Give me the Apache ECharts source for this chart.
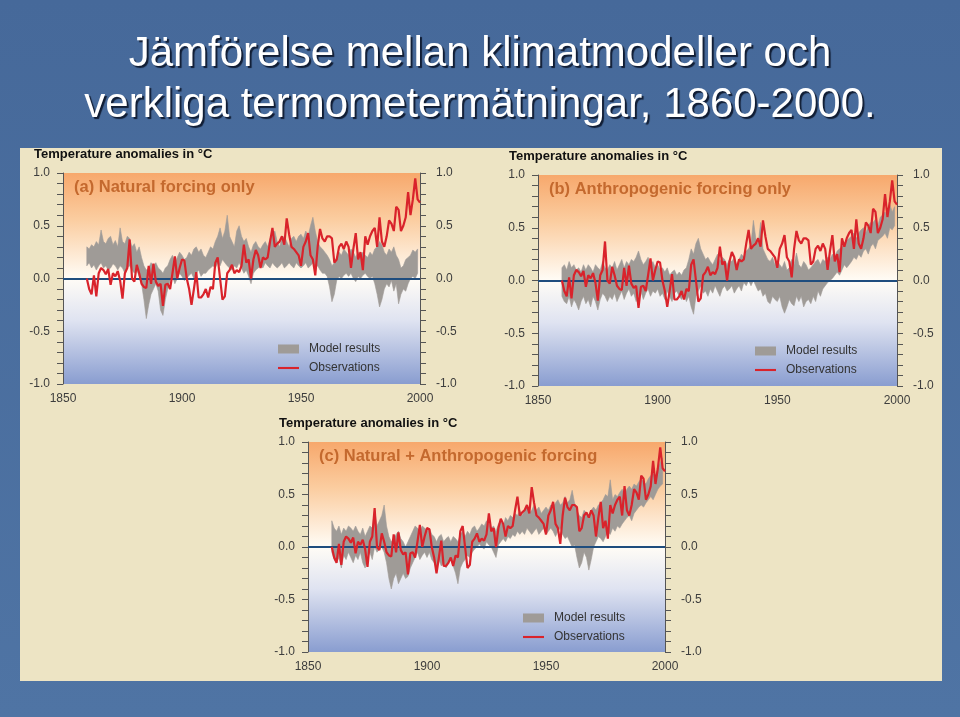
<!DOCTYPE html>
<html><head><meta charset="utf-8">
<script src="https://cdn.jsdelivr.net/npm/echarts@6/dist/echarts.min.js"></script>
<style>html,body{margin:0;padding:0;background:#4a6e9e;}#c{width:960px;height:717px;}</style>
</head><body><div id="c"></div>
<script>
// ---------- DATA ----------
var titleLines = ['Jämförelse mellan klimatmodeller och', 'verkliga termometermätningar, 1860-2000.'];
var panelLabels = ['(a) Natural forcing only', '(b) Anthropogenic forcing only', '(c) Natural + Anthropogenic forcing'];
var yTitle = 'Temperature anomalies in °C';
var legendNames = ['Model results', 'Observations'];
var xTicks = [1850, 1900, 1950, 2000];
var yTicks = [-1.0, -0.5, 0.0, 0.5, 1.0];
var obsStart = 1860;
var modelStart = 1860;

var observations = [
  0.00,-0.10,-0.15,0.03,-0.17,0.05,0.10,0.08,0.04,0.09,
  -0.06,0.05,0.02,0.07,-0.02,-0.19,0.05,0.10,0.37,0.00,
  -0.03,0.13,0.05,-0.05,-0.08,-0.09,0.12,-0.05,0.14,-0.03,
  -0.07,-0.05,-0.26,-0.06,-0.05,-0.10,0.05,0.21,0.00,0.10,
  0.18,0.17,0.00,-0.10,-0.25,-0.10,0.06,-0.18,-0.18,-0.15,
  -0.10,-0.18,-0.08,-0.10,0.15,0.20,0.00,-0.20,-0.17,0.05,
  0.08,0.13,0.05,0.08,0.06,0.12,0.32,0.15,0.18,0.00,
  0.18,0.27,0.22,0.10,0.20,0.18,0.20,0.35,0.48,0.30,
  0.33,0.35,0.40,0.32,0.57,0.42,0.30,0.28,0.25,0.22,
  0.12,0.30,0.35,0.43,0.22,0.18,0.03,0.30,0.47,0.38,
  0.35,0.40,0.40,0.38,0.15,0.18,0.30,0.33,0.28,0.35,
  0.30,0.10,0.28,0.43,0.18,0.25,0.08,0.40,0.32,0.40,
  0.45,0.48,0.30,0.58,0.35,0.30,0.40,0.55,0.52,0.45,
  0.68,0.65,0.45,0.50,0.58,0.82,0.60,0.75,0.95,0.75,
  0.72
];

// (a) natural forcing only: model range
var naturalLow = [
  0.12,0.15,0.10,0.13,0.08,0.12,0.15,0.10,0.12,0.08,
  0.10,0.14,0.12,0.08,0.12,0.10,0.05,0.10,0.12,0.08,
  0.05,0.08,0.02,-0.05,-0.20,-0.38,-0.25,-0.15,-0.10,-0.05,
  -0.12,-0.30,-0.35,-0.20,-0.10,-0.02,0.02,-0.05,0.00,0.05,
  0.02,-0.02,0.00,0.03,0.05,0.00,0.05,0.08,0.02,0.05,
  0.05,0.08,0.10,0.12,0.10,0.15,0.12,0.18,0.15,0.12,
  0.10,0.08,0.12,0.10,0.15,0.10,0.05,0.08,0.02,-0.05,
  0.05,0.08,0.10,0.12,0.10,0.15,0.12,0.10,0.15,0.12,
  0.10,0.12,0.15,0.10,0.12,0.15,0.12,0.10,0.15,0.12,
  0.10,0.12,0.15,0.10,0.12,0.15,0.10,0.12,0.08,0.05,
  0.05,0.02,-0.08,-0.22,-0.15,-0.02,0.02,0.00,0.03,0.05,
  0.02,0.05,0.00,-0.03,0.02,0.00,0.03,0.05,0.02,0.00,
  0.02,-0.05,-0.15,-0.27,-0.20,-0.10,-0.05,-0.08,-0.02,-0.12,
  -0.05,-0.24,-0.15,-0.10,-0.12,-0.05,0.00,0.02,0.00,0.05
];
var naturalHigh = [
  0.30,0.28,0.32,0.30,0.35,0.32,0.46,0.35,0.33,0.38,
  0.40,0.32,0.36,0.30,0.48,0.35,0.33,0.40,0.38,0.30,
  0.33,0.25,0.30,0.20,0.12,0.08,0.10,0.15,0.12,0.15,
  0.10,0.08,0.05,0.10,0.12,0.18,0.22,0.15,0.20,0.25,
  0.22,0.18,0.20,0.25,0.22,0.28,0.30,0.25,0.28,0.22,
  0.20,0.25,0.30,0.28,0.35,0.40,0.48,0.38,0.45,0.60,
  0.40,0.35,0.30,0.45,0.50,0.40,0.35,0.38,0.30,0.25,
  0.32,0.35,0.30,0.28,0.32,0.35,0.30,0.38,0.42,0.45,
  0.35,0.30,0.38,0.40,0.35,0.30,0.38,0.40,0.35,0.40,
  0.42,0.38,0.45,0.40,0.50,0.58,0.45,0.35,0.30,0.28,
  0.25,0.22,0.18,0.12,0.15,0.20,0.25,0.22,0.28,0.25,
  0.22,0.28,0.25,0.20,0.25,0.22,0.25,0.22,0.20,0.25,
  0.22,0.28,0.30,0.35,0.32,0.25,0.22,0.28,0.25,0.30,
  0.22,0.18,0.10,0.12,0.18,0.20,0.22,0.27,0.25,0.28
];

// (b) anthropogenic forcing only: model range
var anthroLow = [
  -0.15,-0.20,-0.22,-0.15,-0.25,-0.18,-0.22,-0.28,-0.20,-0.15,
  -0.22,-0.18,-0.25,-0.15,-0.20,-0.28,-0.18,-0.12,-0.15,-0.20,
  -0.15,-0.18,-0.12,-0.20,-0.15,-0.10,-0.18,-0.12,-0.08,-0.15,
  -0.12,-0.20,-0.15,-0.10,-0.18,-0.12,-0.08,-0.15,-0.10,-0.12,
  -0.08,-0.15,-0.12,-0.18,-0.10,-0.15,-0.20,-0.12,-0.10,-0.15,
  -0.18,-0.12,-0.20,-0.15,-0.25,-0.32,-0.15,-0.10,-0.05,-0.12,
  -0.10,-0.15,-0.08,-0.12,-0.05,-0.10,-0.15,-0.08,-0.05,-0.10,
  -0.08,-0.05,-0.12,-0.08,-0.05,-0.10,-0.02,-0.05,0.00,-0.05,
  0.00,-0.05,-0.10,-0.08,-0.15,-0.12,-0.20,-0.22,-0.15,-0.18,
  -0.20,-0.15,-0.25,-0.31,-0.25,-0.18,-0.22,-0.24,-0.15,-0.20,
  -0.15,-0.25,-0.20,-0.18,-0.22,-0.15,-0.20,-0.10,-0.15,-0.08,
  -0.05,-0.02,0.00,0.02,0.05,0.08,0.05,0.10,0.15,0.12,
  0.15,0.18,0.22,0.20,0.25,0.22,0.28,0.30,0.25,0.32,
  0.35,0.30,0.38,0.40,0.42,0.45,0.40,0.50,0.48,0.52
];
var anthroHigh = [
  0.12,0.15,0.10,0.18,0.12,0.15,0.10,0.12,0.08,0.15,
  0.10,0.15,0.12,0.08,0.15,0.12,0.10,0.18,0.12,0.10,
  0.15,0.12,0.18,0.10,0.15,0.20,0.12,0.18,0.15,0.20,
  0.18,0.22,0.28,0.20,0.15,0.18,0.22,0.15,0.18,0.12,
  0.15,0.10,0.12,0.08,0.12,0.05,0.08,0.10,0.05,0.08,
  0.05,0.10,0.12,0.20,0.30,0.25,0.35,0.40,0.30,0.25,
  0.20,0.22,0.18,0.15,0.20,0.25,0.18,0.22,0.20,0.15,
  0.20,0.18,0.22,0.15,0.20,0.25,0.22,0.28,0.30,0.35,
  0.57,0.40,0.35,0.55,0.30,0.25,0.20,0.18,0.22,0.15,
  0.19,0.15,0.12,0.18,0.10,0.12,0.20,0.15,0.26,0.15,
  0.12,0.18,0.15,0.10,0.12,0.15,0.18,0.20,0.15,0.20,
  0.18,0.22,0.20,0.25,0.22,0.28,0.30,0.32,0.35,0.38,
  0.40,0.42,0.45,0.40,0.45,0.48,0.50,0.45,0.52,0.55,
  0.55,0.58,0.52,0.60,0.62,0.65,0.58,0.72,0.65,0.70
];

// (c) natural + anthropogenic forcing: model range
var combinedLow = [
  -0.05,-0.12,-0.15,-0.10,-0.20,-0.08,-0.12,-0.05,-0.10,-0.15,
  -0.08,-0.12,-0.05,-0.15,-0.20,-0.10,-0.05,-0.12,0.00,-0.05,
  -0.02,0.00,-0.05,-0.15,-0.30,-0.40,-0.30,-0.25,-0.35,-0.30,
  -0.25,-0.30,-0.28,-0.20,-0.15,-0.10,-0.05,-0.12,-0.08,-0.05,
  -0.10,-0.05,-0.12,-0.15,-0.20,-0.12,-0.18,-0.15,-0.20,-0.15,
  -0.12,-0.18,-0.25,-0.35,-0.20,-0.15,-0.12,-0.08,-0.10,-0.05,
  -0.02,0.00,0.03,0.00,-0.02,0.05,0.02,0.00,-0.05,-0.10,
  0.02,0.05,0.08,0.05,0.10,0.08,0.12,0.10,0.15,0.12,
  0.15,0.12,0.18,0.15,0.12,0.15,0.18,0.12,0.15,0.18,
  0.12,0.15,0.18,0.15,0.10,0.15,0.18,0.12,0.08,0.10,
  0.05,0.00,0.02,-0.10,-0.20,-0.15,-0.05,-0.10,-0.22,-0.12,
  0.00,0.05,0.10,0.08,0.05,0.10,0.15,0.12,0.18,0.15,
  0.20,0.18,0.22,0.25,0.28,0.30,0.25,0.32,0.35,0.38,
  0.40,0.38,0.42,0.45,0.48,0.45,0.50,0.55,0.58,0.60
];
var combinedHigh = [
  0.25,0.18,0.15,0.20,0.12,0.18,0.15,0.20,0.18,0.15,
  0.20,0.15,0.12,0.18,0.10,0.15,0.20,0.18,0.35,0.20,
  0.25,0.30,0.40,0.20,0.10,0.05,0.08,0.12,0.15,0.08,
  0.05,0.00,0.05,0.10,0.15,0.20,0.18,0.15,0.20,0.18,
  0.15,0.18,0.12,0.10,0.05,0.10,0.12,0.05,0.08,0.10,
  0.05,0.10,0.08,0.05,0.12,0.15,0.10,0.15,0.12,0.18,
  0.20,0.15,0.18,0.22,0.20,0.25,0.22,0.18,0.20,0.15,
  0.22,0.25,0.20,0.28,0.25,0.30,0.28,0.32,0.30,0.35,
  0.30,0.35,0.38,0.32,0.35,0.40,0.35,0.38,0.32,0.35,
  0.38,0.35,0.40,0.38,0.42,0.45,0.40,0.42,0.48,0.42,
  0.45,0.54,0.42,0.35,0.30,0.28,0.35,0.32,0.30,0.35,
  0.38,0.35,0.40,0.42,0.45,0.50,0.48,0.64,0.45,0.50,
  0.48,0.52,0.55,0.50,0.55,0.58,0.55,0.60,0.58,0.62,
  0.65,0.62,0.60,0.65,0.68,0.70,0.68,0.75,0.80,0.85
];

// ---------- LAYOUT / STYLE ----------
var panels = [
  {low: naturalLow,  high: naturalHigh,  grid:{left:63, top:173, width:357, height:211}},
  {low: anthroLow,   high: anthroHigh,   grid:{left:538, top:175, width:359, height:211}},
  {low: combinedLow, high: combinedHigh, grid:{left:308, top:442, width:357, height:210}}
];
var FONT = '"Liberation Sans", Arial, Helvetica, sans-serif';
var RED = '#d9232b', GRAY = '#9f9b97', ZERO = '#1f4d7e', LBL = '#3d3d3d';

var plotBg = {type:'linear', x:0, y:0, x2:0, y2:1, colorStops:[
  {offset:0, color:'#f7a86c'}, {offset:0.22, color:'#fbcda0'}, {offset:0.5, color:'#fffcf6'},
  {offset:0.7, color:'#dfe3f1'}, {offset:1, color:'#899dd0'}]};

var option = {
  animation:false,
  backgroundColor:'transparent',
  graphic:[
    {type:'rect', left:0, top:0, shape:{width:960, height:717}, z:-10,
     style:{fill:{type:'linear', x:0, y:0, x2:0, y2:1, colorStops:[{offset:0, color:'#46699a'},{offset:1,color:'#4f74a4'}]}}},
    {type:'rect', left:20, top:148, shape:{width:922, height:533}, z:-9, style:{fill:'#ede4c4'}}
  ],
  title:[], grid:[], xAxis:[], yAxis:[], series:[], legend:[]
};

var titleStyle = {color:'#ffffff', fontFamily:FONT, fontWeight:'normal', fontSize:42,
    textShadowColor:'rgba(10,20,40,0.9)', textShadowOffsetX:2, textShadowOffsetY:2, textShadowBlur:1};
option.title.push({text:titleLines[0], left:'center', top:33, padding:0, textStyle:titleStyle});
option.title.push({text:titleLines[1], left:'center', top:84, padding:0, textStyle:titleStyle});

function fmt(v){ return v.toFixed(1); }

function bandRenderer(color){
  return function(params, api){
    if (params.dataIndex !== 0) return null;
    var n = params.dataInsideLength;
    var top = [], bottom = [];
    for (var k = 0; k < n; k++) {
      top.push(api.coord([api.value(0, k), api.value(2, k)]));
      bottom.push(api.coord([api.value(0, k), api.value(1, k)]));
    }
    var pts = top.concat(bottom.reverse());
    return {type:'polygon', shape:{points:pts}, style:{fill:color, stroke:color, lineWidth:0.6}};
  };
}

panels.forEach(function(p, i){
  var g = p.grid;
  option.grid.push({left:g.left, top:g.top, width:g.width, height:g.height, show:true,
    backgroundColor:plotBg, borderWidth:0});
  option.title.push({text:yTitle, left:g.left - 29, top:g.top - 25, padding:0,
    textStyle:{fontFamily:FONT, fontSize:13, fontWeight:'bold', color:'#111'}});
  option.title.push({text:panelLabels[i], left:g.left + 11, top:g.top + 6, padding:0,
    textStyle:{fontFamily:FONT, fontSize:16.5, fontWeight:'bold', color:'#c4692e'}});

  option.xAxis.push({type:'value', gridIndex:i, min:1850, max:2000, interval:50,
    axisLine:{show:false}, axisTick:{show:false}, splitLine:{show:false},
    axisLabel:{fontFamily:FONT, fontSize:12, color:LBL, margin:9,
      formatter:function(v){ return xTicks.indexOf(v) >= 0 ? String(v) : ''; }}});
  var yBase = {type:'value', gridIndex:i, min:-1, max:1, interval:0.5,
    splitLine:{show:false},
    axisLine:{show:true, lineStyle:{color:'#555', width:1}},
    axisTick:{show:true, length:6, lineStyle:{color:'#555'}},
    minorTick:{show:true, splitNumber:5, length:6, lineStyle:{color:'#555'}},
    axisLabel:{fontFamily:FONT, fontSize:12, color:LBL, margin:13,
      formatter:function(v){ return yTicks.indexOf(v) >= 0 ? fmt(v) : ''; }}};
  option.yAxis.push(Object.assign({}, yBase, {position:'left'}));
  var yRight = Object.assign({}, yBase, {position:'right'});
  yRight.axisLabel = Object.assign({}, yBase.axisLabel, {margin:16});
  option.yAxis.push(yRight);

  var bandData = [], obsData = [];
  for (var k = 0; k < p.low.length; k++) bandData.push([modelStart + k, p.low[k], p.high[k]]);
  for (var j = 0; j < observations.length; j++) obsData.push([obsStart + j, observations[j]]);

  var yi = i * 2;
  option.series.push({type:'custom', name:legendNames[0], xAxisIndex:i, yAxisIndex:yi,
    data:bandData, encode:{x:0, y:[1,2]}, renderItem:bandRenderer(GRAY),
    itemStyle:{color:GRAY}, color:GRAY, silent:true, z:2, clip:true});
  option.series.push({type:'line', name:legendNames[1], xAxisIndex:i, yAxisIndex:yi,
    data:obsData, symbol:'none', color:RED, lineStyle:{color:RED, width:2.2}, itemStyle:{color:RED}, z:5,
    markLine:{silent:true, symbol:['none','none'], label:{show:false},
      lineStyle:{color:ZERO, width:2, type:'solid'}, data:[{yAxis:0}]}});

  option.legend.push({orient:'vertical', left:g.left + g.width - 147, top:g.top + 165,
    itemWidth:21, itemHeight:9, itemGap:7,
    textStyle:{fontFamily:FONT, fontSize:12, color:'#333', padding:[0,0,0,5]},
    data:[{name:legendNames[0], icon:'rect', itemStyle:{color:GRAY}},
          {name:legendNames[1], icon:'path://M0,4 L20,4 L20,6 L0,6 Z'}]});
});

var chart = echarts.init(document.getElementById('c'), null, {renderer:'canvas'});
chart.setOption(option);
</script></body></html>
